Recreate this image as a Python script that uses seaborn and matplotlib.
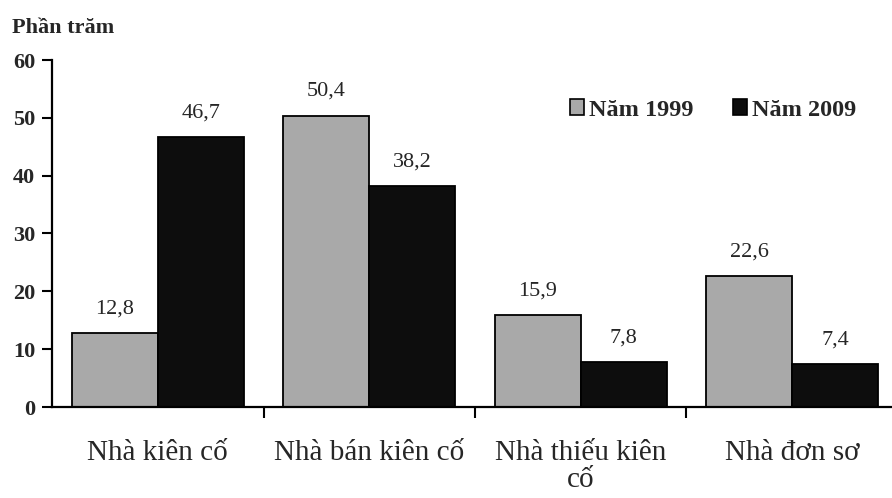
import matplotlib
matplotlib.use("Agg")
import matplotlib.pyplot as plt
import seaborn as sns
import pandas as pd
from matplotlib.ticker import FixedLocator, NullFormatter
from matplotlib.patches import Patch

categories = ["Nhà kiên cố", "Nhà bán kiên cố", "Nhà thiếu kiên\ncố", "Nhà đơn sơ"]
series_names = ["Năm 1999", "Năm 2009"]
values_1999 = [12.8, 50.4, 15.9, 22.6]
values_2009 = [46.7, 38.2, 7.8, 7.4]
y_ticks = [0, 10, 20, 30, 40, 50, 60]
y_label = "Phần trăm"

df = pd.DataFrame({
    "cat": categories * 2,
    "year": [series_names[0]] * 4 + [series_names[1]] * 4,
    "val": values_1999 + values_2009,
})

sns.set_style("white")
plt.rcParams["font.family"] = ["Liberation Serif", "DejaVu Serif"]

fig = plt.figure(figsize=(8.92, 4.98), dpi=100)
ax = fig.add_axes([52 / 892, 91 / 498, 846 / 892, 347 / 498])

palette = {series_names[0]: "#a9a9a9", series_names[1]: "#0d0d0d"}
sns.barplot(data=df, x="cat", y="val", hue="year", order=categories,
            hue_order=series_names, palette=palette, width=0.815,
            edgecolor="black", linewidth=1.3, saturation=1, ax=ax, legend=False)

ax.set_ylim(0, 60)
ax.set_xlim(-0.5, 3.5)
ax.set_yticks(y_ticks)
ax.set_yticklabels([str(t) for t in y_ticks], fontsize=16, fontweight="bold")

# category boundaries as major ticks, labels at category centers
ax.xaxis.set_major_locator(FixedLocator([0.5, 1.5, 2.5]))
ax.xaxis.set_major_formatter(NullFormatter())
ax.xaxis.set_minor_locator(FixedLocator([0, 1, 2, 3]))
ax.set_xticklabels(categories, minor=True, fontsize=21, linespacing=1.05)
ax.tick_params(axis="x", which="major", direction="out", length=8, width=1.5,
               color="black", bottom=True)
ax.tick_params(axis="x", which="minor", length=0, pad=24)
ax.tick_params(axis="y", direction="out", length=7, width=1.5, color="black",
               left=True, pad=5)

for sp in ["top", "right"]:
    ax.spines[sp].set_visible(False)
for sp in ["left", "bottom"]:
    ax.spines[sp].set_color("black")
    ax.spines[sp].set_linewidth(1.6)

ax.set_xlabel("")
ax.set_ylabel("")

# value labels
for cont in ax.containers:
    for rect in cont:
        h = rect.get_height()
        ax.annotate(f"{h:.1f}".replace(".", ","),
                    (rect.get_x() + rect.get_width() / 2, h),
                    xytext=(0, 17.5), textcoords="offset points",
                    ha="center", va="center", fontsize=16)

fig.text(12 / 892, 1 - 28 / 498, y_label, fontsize=16, fontweight="bold",
         ha="left", va="center")

handles = [Patch(facecolor=palette[s], edgecolor="black", linewidth=1.2) for s in series_names]
leg = fig.legend(handles, series_names, loc="center left",
                 bbox_to_anchor=(548 / 892, 1 - 110 / 498), ncol=2, frameon=False,
                 prop={"size": 17.5, "weight": "bold"}, handlelength=0.6,
                 handleheight=0.6, handletextpad=0.2, columnspacing=1.6)

fig.savefig("out.png", dpi=100)
